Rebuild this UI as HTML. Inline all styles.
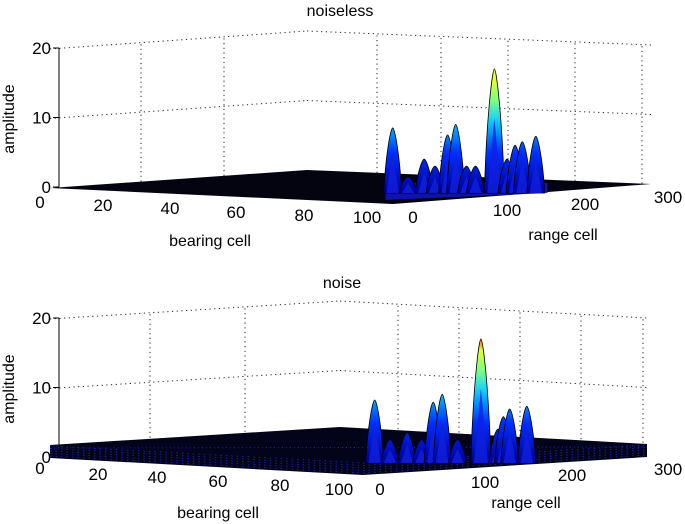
<!DOCTYPE html>
<html><head><meta charset="utf-8">
<style>
html,body{margin:0;padding:0;background:#fff;}
svg{display:block;font-family:"Liberation Sans",Arial,sans-serif;}
</style></head>
<body>
<svg id="chart" width="685" height="524" viewBox="0 0 685 524" xmlns="http://www.w3.org/2000/svg">
<defs>
<linearGradient id="jetTop" gradientUnits="userSpaceOnUse" x1="0" y1="190" x2="0" y2="65">
<stop offset="0" stop-color="#0000a0"/><stop offset="0.3" stop-color="#0030ff"/><stop offset="0.45" stop-color="#0090ff"/><stop offset="0.58" stop-color="#20d8f0"/><stop offset="0.72" stop-color="#80ff80"/><stop offset="0.88" stop-color="#e0ff30"/><stop offset="1" stop-color="#f0ff20"/>
</linearGradient>
<linearGradient id="jetBot" gradientUnits="userSpaceOnUse" x1="0" y1="460" x2="0" y2="335">
<stop offset="0" stop-color="#0000a0"/><stop offset="0.3" stop-color="#0030ff"/><stop offset="0.45" stop-color="#0090ff"/><stop offset="0.58" stop-color="#20d8f0"/><stop offset="0.72" stop-color="#80ff80"/><stop offset="0.88" stop-color="#e0ff30"/><stop offset="0.95" stop-color="#ff8000"/><stop offset="1" stop-color="#a00000"/>
</linearGradient>
</defs>
<g id="top"></g>
<g id="bot"></g>
</svg>
<script>
// noiseless plot data
const topRanges = [3, 20, 38, 50, 64, 73, 85, 95, 116, 130, 139, 147, 162];
const topAmps   = [8.5, 1.5, 4, 3, 7.5, 9, 3, 3, 17, 4, 6, 6.5, 7.3];
// noise plot data
const botRanges = [3, 20, 39, 55, 68, 78, 95, 121, 140, 146, 153, 172];
const botAmps   = [8.2, 2.5, 3.5, 2.5, 7.9, 9, 2.5, 17, 4, 5.8, 6.9, 7.3];
const zTicks = [0, 10, 20];
const bearingTicks = ["0", "20", "40", "60", "80", "100"];
const rangeTicks = ["0", "100", "200", "300"];

const NS = "http://www.w3.org/2000/svg";
function mk(parent, tag, attrs, text) {
  const e = document.createElementNS(NS, tag);
  for (const k in attrs) e.setAttribute(k, attrs[k]);
  if (text !== undefined) e.textContent = text;
  parent.appendChild(e);
  return e;
}
function dotted(g, x1, y1, x2, y2) {
  const l = mk(g, "line", {x1, y1, x2, y2, stroke: "#222", "stroke-width": 1, "stroke-dasharray": "1.2,3.5"});
  
  
}
function lerp(a, b, t) { return a + (b - a) * t; }

function drawPlot(g, G, ranges, amps, title, grad, noisy) {
  const ya = a => G.z0 - a * 6.95;
  const xr = r => G.x0 + r * G.k;
  const t = mk(g, "text", {x: G.titleX, y: G.titleY, "font-size": 16, "text-anchor": "middle"}, title);
  
  
  const L = G.left, B = G.back, R = G.right, F = G.front;
  for (const z of [10, 20]) {
    const dz = z * 6.95;
    dotted(g, L[0], L[1] - dz, B[0], B[1] - dz);
    dotted(g, B[0], B[1] - dz, R[0], R[1] - dz);
  }
  for (const vx of G.leftV) {
    const tt = (vx - L[0]) / (B[0] - L[0]);
    const y0 = lerp(L[1], B[1], tt);
    dotted(g, vx, y0, vx, y0 - 139);
  }
  for (const vx of G.rightV) {
    const tt = (vx - B[0]) / (R[0] - B[0]);
    const y0 = lerp(B[1], R[1], tt);
    dotted(g, vx, y0, vx, y0 - 139);
  }
  const ax = mk(g, "line", {x1: G.axX, y1: G.z0, x2: G.axX, y2: G.z0 - 139, stroke: "#000", "stroke-width": 1});
  
  
  zTicks.forEach(z => {
    const y = G.z0 - z * 6.95;
    mk(g, "line", {x1: G.axX - 6, y1: y, x2: G.axX, y2: y, stroke: "#000"});
    const tl = mk(g, "text", {x: G.axX - 8, y: y + 6, "font-size": 17, "text-anchor": "end"}, String(z));
    
    
  });
  const yl = mk(g, "text", {x: 0, y: 0, "font-size": 16, "text-anchor": "middle", transform: `translate(${G.ylabX},${G.z0-68}) rotate(-90)`}, "amplitude");
  
  
  if (noisy) {
    const h = G.noiseH;
    const fl = mk(g, "polygon", {points: `${L[0]},${L[1]} ${L[0]},${L[1]-h} ${B[0]},${B[1]-h} ${R[0]},${R[1]-h} ${R[0]},${R[1]} ${F[0]},${F[1]}`, fill: "#03031a"});
    
    
    for (let i = 0; i < 5; i++) {
      const o = 2 + i * 2.5;
      mk(g, "polyline", {points: `${L[0]},${L[1]-o} ${F[0]},${F[1]-o} ${R[0]},${R[1]-o}`, fill: "none", stroke: "#2030e0", "stroke-width": 0.9, "stroke-dasharray": "1.5,4", opacity: 0.8});
    }
    mk(g, "line", {x1: L[0], y1: L[1]-h+3, x2: R[0], y2: R[1]-h+3, stroke: "#2030e0", "stroke-width": 0.9, "stroke-dasharray": "1,3", opacity: 0.8});
  } else {
    const fl = mk(g, "polygon", {points: `${L[0]},${L[1]} ${B[0]},${B[1]} ${R[0]},${R[1]} ${F[0]},${F[1]}`, fill: "#040410"});
    
    
    mk(g, "polygon", {points: `${xr(-5)},${ya(0)-4} ${xr(175)},${ya(0)-4} ${xr(175)},${ya(0)+6} ${xr(-5)},${F[1]-4}`, fill: "#1018c0", opacity: 0.85});
  }
  ranges.forEach((r, i) => {
    const a = amps[i];
    const x = xr(r), top = ya(a), base = ya(0) + 6;
    const w = a > 12 ? 10 : 9;
    const d = `M${x-w},${base} C${x-w+2},${top+(base-top)*0.4} ${x-2},${top} ${x},${top} C${x+2},${top} ${x+w-2},${top+(base-top)*0.4} ${x+w},${base} Z`;
    const p = mk(g, "path", {d, fill: grad, stroke: "#000", "stroke-width": 0.8});
    
    
    const inner = mk(g, "path", {d: `M${x-w*0.7},${base} L${x},${top + (base-top)*0.4} L${x+w*0.7},${base} Z`, fill: "#1020e0", opacity: 0.8});
    
    
  });
  bearingTicks.forEach((b, i) => {
    const tl = mk(g, "text", {x: G.bx[i], y: G.by[i], "font-size": 17, "text-anchor": "middle"}, b);
    
    
  });
  rangeTicks.forEach((b, i) => {
    const tl = mk(g, "text", {x: G.rx[i], y: G.ry[i], "font-size": 17, "text-anchor": "middle"}, b);
    
    
  });
  const bl = mk(g, "text", {x: G.blab[0], y: G.blab[1], "font-size": 16, "text-anchor": "middle"}, "bearing cell");
  
  
  const rl = mk(g, "text", {x: G.rlab[0], y: G.rlab[1], "font-size": 16, "text-anchor": "middle"}, "range cell");
  
  
}

drawPlot(document.getElementById("top"), {
  z0: 187, x0: 390, k: 0.9, titleX: 340, titleY: 16, axX: 59,
  left: [50, 188], back: [307, 170], right: [651, 184], front: [393, 204],
  leftV: [141, 224], rightV: [377, 441, 508, 575, 642],
  ylabX: 14,
  bx: [40, 103, 170, 236, 304, 367], by: [208, 211, 214, 218, 221, 223],
  rx: [413, 507, 585, 668], ry: [223, 216, 210, 203],
  blab: [210, 246], rlab: [563, 240]
}, topRanges, topAmps, "noiseless", "url(#jetTop)", false);

drawPlot(document.getElementById("bot"), {
  z0: 457, x0: 372, k: 0.9, titleX: 342, titleY: 288, axX: 59, noiseH: 13,
  left: [50, 458], back: [340, 440], right: [647, 457], front: [363, 475],
  leftV: [150, 245], rightV: [398, 459, 520, 581, 643],
  ylabX: 14,
  bx: [40, 98, 157, 218, 280, 339], by: [474, 480, 483, 487, 491, 495],
  rx: [380, 485, 572, 668], ry: [495, 488, 481, 475],
  blab: [218, 518], rlab: [526, 508]
}, botRanges, botAmps, "noise", "url(#jetBot)", true);
</script>
</body></html>
